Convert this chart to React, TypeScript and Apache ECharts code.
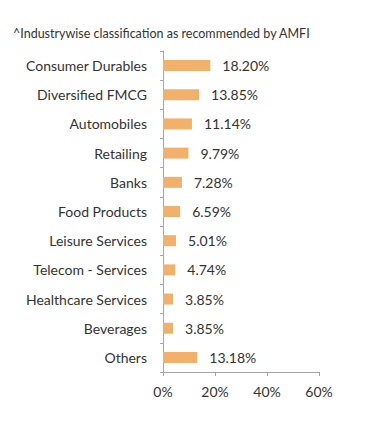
import React, { useEffect, useRef } from "react";
import * as echarts from "echarts";

const categories = [
  "Consumer Durables",
  "Diversified FMCG",
  "Automobiles",
  "Retailing",
  "Banks",
  "Food Products",
  "Leisure Services",
  "Telecom - Services",
  "Healthcare Services",
  "Beverages",
  "Others",
];
const values = [18.2, 13.85, 11.14, 9.79, 7.28, 6.59, 5.01, 4.74, 3.85, 3.85, 13.18];
const title = "^Industrywise classification as recommended by AMFI";

export default function App() {
  const ref = useRef<HTMLDivElement>(null);
  useEffect(() => {
    if (!ref.current) return;
    const chart = echarts.init(ref.current, undefined, { renderer: "svg" });
    const font = "Lato";
    chart.setOption({
      animation: false,
      textStyle: { fontFamily: font },
      title: {
        text: title,
        left: 0,
        top: 14,
        textStyle: { fontFamily: font, fontSize: 12.5, fontWeight: "normal", color: "#333" },
      },
      grid: { left: 155, right: 72, top: 43, bottom: 62 },
      xAxis: {
        type: "value",
        min: 0,
        max: 60,
        interval: 20,
        splitLine: { show: false },
        axisLine: { show: true, lineStyle: { color: "#a6a6a6" } },
        axisTick: { show: true, length: 4, lineStyle: { color: "#a6a6a6" } },
        axisLabel: {
          formatter: "{value}%",
          color: "#333",
          fontSize: 14,
          fontFamily: font,
          margin: 12,
        },
      },
      yAxis: {
        type: "category",
        data: categories,
        inverse: true,
        axisLine: { show: true, lineStyle: { color: "#a6a6a6" } },
        axisTick: { show: true, length: 3, lineStyle: { color: "#a6a6a6" } },
        axisLabel: { color: "#333", fontSize: 14, fontFamily: font, margin: 16 },
      },
      series: [
        {
          type: "bar",
          data: values,
          barWidth: 11,
          itemStyle: { color: "#F2B16B" },
          label: {
            show: true,
            position: "right",
            distance: 12,
            formatter: (p: any) => p.value.toFixed(2) + "%",
            color: "#333",
            fontSize: 14,
            fontFamily: font,
          },
        },
      ],
    });
    return () => chart.dispose();
  }, []);
  return <div ref={ref} style={{ width: 383, height: 426 }} />;
}
